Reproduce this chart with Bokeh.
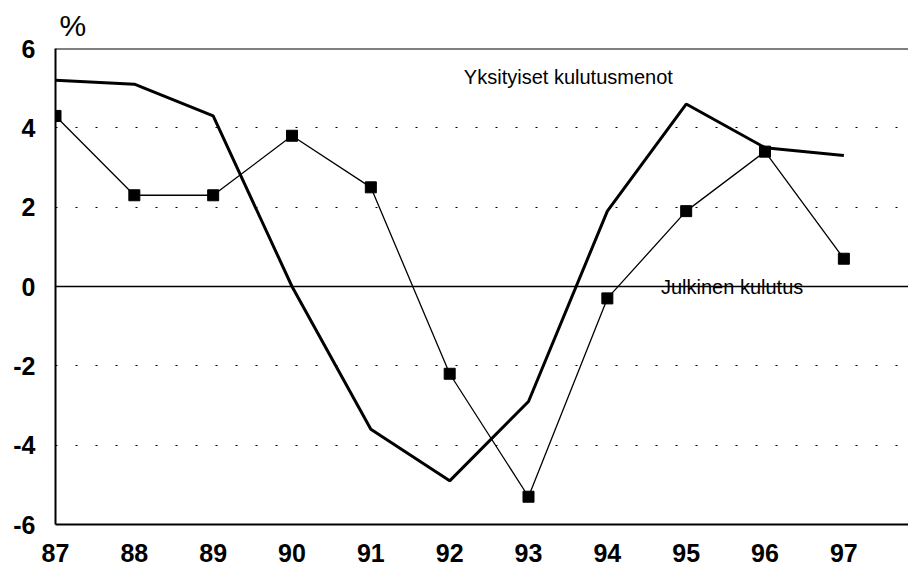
from bokeh.plotting import figure
from bokeh.models import Span, Label, FixedTicker, Range1d, PrintfTickFormatter
from bokeh.embed import file_html
from bokeh.resources import INLINE

years = [87, 88, 89, 90, 91, 92, 93, 94, 95, 96, 97]
private_consumption = [5.2, 5.1, 4.3, 0.0, -3.6, -4.9, -2.9, 1.9, 4.6, 3.5, 3.3]
public_consumption = [4.3, 2.3, 2.3, 3.8, 2.5, -2.2, -5.3, -0.3, 1.9, 3.4, 0.7]
y_ticks = [-6, -4, -2, 0, 2, 4, 6]
grid_ticks = [-4, -2, 2, 4]

p = figure(width=908, height=566, output_backend="svg", toolbar_location=None,
           x_range=Range1d(87, 97.82), y_range=Range1d(-6, 6),
           min_border_left=55, min_border_top=47, min_border_right=0, min_border_bottom=42)
p.outline_line_color = None
p.background_fill_color = "white"
p.border_fill_color = "white"

p.title.text = "%"
p.title.align = "left"
p.title.offset = 4
p.title.text_font = "Liberation Sans"
p.title.text_font_size = "30px"
p.title.text_font_style = "normal"
p.title.text_color = "black"
p.title.standoff = 13

p.xgrid.visible = False
p.ygrid.ticker = FixedTicker(ticks=grid_ticks)
p.ygrid.grid_line_color = "black"
p.ygrid.grid_line_dash = "2 18"
p.ygrid.grid_line_width = 1

for ax in (p.xaxis[0], p.yaxis[0]):
    ax.axis_line_color = "black"
    ax.axis_line_width = 2
    ax.major_tick_line_color = None
    ax.minor_tick_line_color = None
    ax.major_label_text_font = "Liberation Sans"
    ax.major_label_text_font_style = "bold"
    ax.major_label_text_font_size = "25px"
    ax.major_label_text_color = "black"

p.xaxis.ticker = FixedTicker(ticks=years)
p.yaxis.ticker = FixedTicker(ticks=y_ticks)
p.yaxis.formatter = PrintfTickFormatter(format="%d")
p.xaxis.major_label_standoff = 13
p.yaxis.major_label_standoff = 14

p.add_layout(Span(location=0, dimension="width", line_color="black", line_width=1.5))
p.add_layout(Span(location=6, dimension="width", line_color="black", line_width=2))

p.line(years, private_consumption, line_color="black", line_width=3)
p.line(years, public_consumption, line_color="black", line_width=1.3)
p.scatter(years, public_consumption, marker="square", size=11, fill_color="black", line_color="black")

p.add_layout(Label(x=92.18, y=5.27, text="Yksityiset kulutusmenot", text_font="Liberation Sans",
                   text_font_size="20px", text_baseline="middle", text_color="black"))
p.add_layout(Label(x=94.68, y=0, text="Julkinen kulutus", text_font="Liberation Sans",
                   text_font_size="20px", text_baseline="alphabetic", text_color="black"))

open("out.html", "w").write(file_html(p, INLINE))
